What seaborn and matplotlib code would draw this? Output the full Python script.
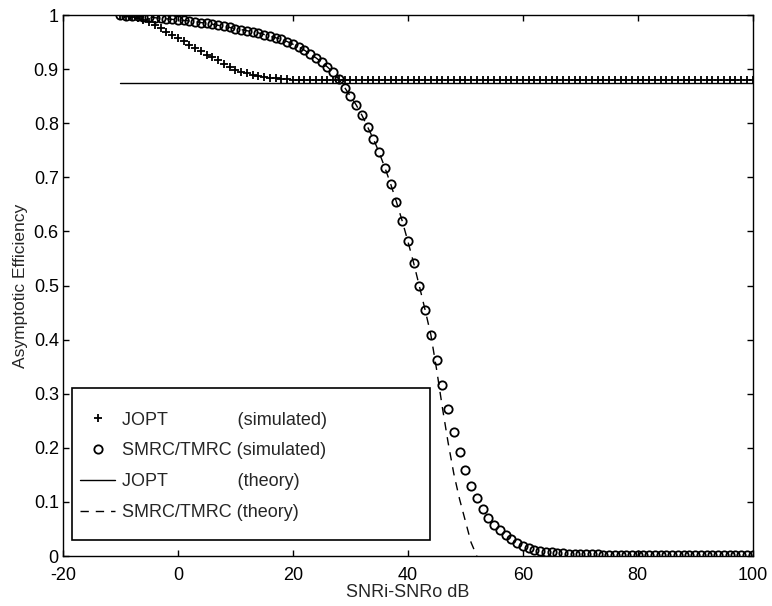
import numpy as np
import pandas as pd
import matplotlib
matplotlib.use("Agg")
import matplotlib.pyplot as plt
from matplotlib.patches import Rectangle
from matplotlib.ticker import FuncFormatter
import seaborn as sns

# ---------------- data ----------------
snr_sim = np.arange(-10, 101, 1)

jopt_sim = [
    1.000, 0.999, 0.997, 0.994, 0.991, 0.987, 0.982, 0.976, 0.969, 0.963,
    0.958, 0.952, 0.945, 0.939, 0.933, 0.927, 0.922, 0.916, 0.910, 0.904,
    0.899, 0.895, 0.892, 0.889, 0.887, 0.885, 0.884, 0.883, 0.882, 0.881,
    0.880,
    0.880, 0.879, 0.880, 0.879, 0.879, 0.880, 0.879, 0.879, 0.880, 0.879,
    0.879, 0.880, 0.879, 0.879, 0.880, 0.879, 0.880, 0.879, 0.879, 0.880,
    0.880, 0.879, 0.879, 0.880, 0.879, 0.879, 0.880, 0.879, 0.880, 0.879,
    0.879, 0.880, 0.879, 0.880, 0.879, 0.879, 0.880, 0.879, 0.879, 0.880,
    0.880, 0.879, 0.879, 0.880, 0.879, 0.880, 0.879, 0.879, 0.880, 0.879,
    0.879, 0.880, 0.879, 0.879, 0.880, 0.879, 0.880, 0.879, 0.879, 0.880,
    0.880, 0.879, 0.880, 0.879, 0.879, 0.880, 0.879, 0.879, 0.880, 0.879,
    0.879, 0.880, 0.879, 0.880, 0.879, 0.879, 0.880, 0.879, 0.879, 0.880,
]

smrc_sim = [
    1.000, 0.999, 0.998, 0.998, 0.997, 0.996, 0.995, 0.994, 0.993, 0.992,
    0.991, 0.990, 0.989, 0.988, 0.986, 0.985, 0.983, 0.981, 0.979, 0.977,
    0.975, 0.973, 0.971, 0.969, 0.967, 0.964, 0.961, 0.958, 0.955, 0.951,
    0.946, 0.941, 0.935, 0.928, 0.921, 0.913, 0.904, 0.894, 0.881, 0.866,
    0.850, 0.834, 0.815, 0.793, 0.771, 0.746, 0.718, 0.688, 0.655, 0.620,
    0.582, 0.542, 0.499, 0.455, 0.409, 0.362, 0.316, 0.271, 0.230, 0.192,
    0.159, 0.129, 0.107, 0.087, 0.070, 0.058, 0.048, 0.039, 0.031, 0.024,
    0.019, 0.015, 0.012, 0.010, 0.008, 0.007, 0.006, 0.005, 0.004, 0.004,
    0.003, 0.003, 0.003, 0.003, 0.002, 0.002, 0.002, 0.002, 0.002, 0.002,
    0.002, 0.002, 0.002, 0.001, 0.001, 0.001, 0.001, 0.001, 0.001, 0.001,
    0.001, 0.001, 0.001, 0.001, 0.001, 0.001, 0.001, 0.001, 0.001, 0.001,
    0.001,
]

snr_theory_smrc = np.arange(-10, 53, 1)
smrc_theory = [
    1.000, 0.999, 0.998, 0.998, 0.997, 0.996, 0.995, 0.994, 0.993, 0.992,
    0.991, 0.990, 0.989, 0.988, 0.986, 0.985, 0.983, 0.981, 0.979, 0.977,
    0.975, 0.973, 0.971, 0.969, 0.967, 0.964, 0.961, 0.958, 0.955, 0.951,
    0.946, 0.941, 0.935, 0.928, 0.921, 0.913, 0.904, 0.894, 0.881, 0.866,
    0.850, 0.834, 0.815, 0.793, 0.771, 0.746, 0.718, 0.688, 0.655, 0.620,
    0.582, 0.542, 0.499, 0.455, 0.409, 0.345, 0.275, 0.210, 0.152, 0.105,
    0.065, 0.025, 0.000,
]

snr_theory_jopt = [-10, 100]
jopt_theory = [0.875, 0.875]

labels = [
    "JOPT              (simulated)",
    "SMRC/TMRC (simulated)",
    "JOPT              (theory)",
    "SMRC/TMRC (theory)",
]

x_ticks = [-20, 0, 20, 40, 60, 80, 100]
y_ticks = [0, 0.1, 0.2, 0.3, 0.4, 0.5, 0.6, 0.7, 0.8, 0.9, 1.0]

# ---------------- style ----------------
sns.set_style("ticks")
plt.rcParams["font.family"] = ["Liberation Sans", "DejaVu Sans"]
plt.rcParams["axes.linewidth"] = 1.0

fig = plt.figure(figsize=(7.72, 6.06), dpi=100)
ax = fig.add_axes([0.0816, 0.0825, 0.8934, 0.8927])

df_js = pd.DataFrame({"x": snr_sim, "y": jopt_sim})
df_ss = pd.DataFrame({"x": snr_sim, "y": smrc_sim})
df_jt = pd.DataFrame({"x": snr_theory_jopt, "y": jopt_theory})
df_st = pd.DataFrame({"x": snr_theory_smrc, "y": smrc_theory})

sns.lineplot(data=df_js, x="x", y="y", ax=ax, estimator=None, sort=False,
             color="black", linestyle="none", marker="+", markersize=6,
             markeredgecolor="black", markerfacecolor="black",
             markeredgewidth=1.3, label=labels[0], zorder=3)
sns.lineplot(data=df_ss, x="x", y="y", ax=ax, estimator=None, sort=False,
             color="black", linestyle="none", marker="o", markersize=6,
             markerfacecolor="none", markeredgecolor="black",
             markeredgewidth=1.3, label=labels[1], zorder=3)
sns.lineplot(data=df_jt, x="x", y="y", ax=ax, estimator=None, sort=False,
             color="black", linewidth=1.0, label=labels[2], zorder=2)
sns.lineplot(data=df_st, x="x", y="y", ax=ax, estimator=None, sort=False,
             color="black", linewidth=1.0, linestyle=(0, (6, 5)),
             label=labels[3], zorder=2)

ax.set_xlim(-20, 100)
ax.set_ylim(0, 1)
ax.set_xticks(x_ticks)
ax.set_yticks(y_ticks)
ax.xaxis.set_major_formatter(FuncFormatter(lambda v, p: "%g" % v))
ax.yaxis.set_major_formatter(FuncFormatter(lambda v, p: "%g" % v))
ax.tick_params(direction="in", top=True, right=True, length=4.5, width=1.0,
               labelsize=13, colors="black")
ax.tick_params(axis="x", pad=8)
ax.tick_params(axis="y", pad=3)
for s in ax.spines.values():
    s.set_visible(True)
    s.set_color("black")
    s.set_linewidth(1.0)

ax.set_xlabel("SNRi-SNRo dB", fontsize=13, labelpad=0)
ax.set_ylabel("Asymptotic Efficiency", fontsize=12.5, labelpad=4)

# legend box
ax.add_patch(Rectangle((0.013, 0.0296), 0.519, 0.281, transform=ax.transAxes,
                       facecolor="white", edgecolor="black", linewidth=1.2,
                       zorder=4))
handles, labs = ax.get_legend_handles_labels()
leg = ax.legend(handles, labs, loc="upper left",
                bbox_to_anchor=(0.0246, 0.267), frameon=False, fontsize=13,
                borderpad=0, labelspacing=0.77, handlelength=1.95,
                handletextpad=0.4, borderaxespad=0)
leg.set_zorder(5)

fig.savefig("out.png", dpi=100)
